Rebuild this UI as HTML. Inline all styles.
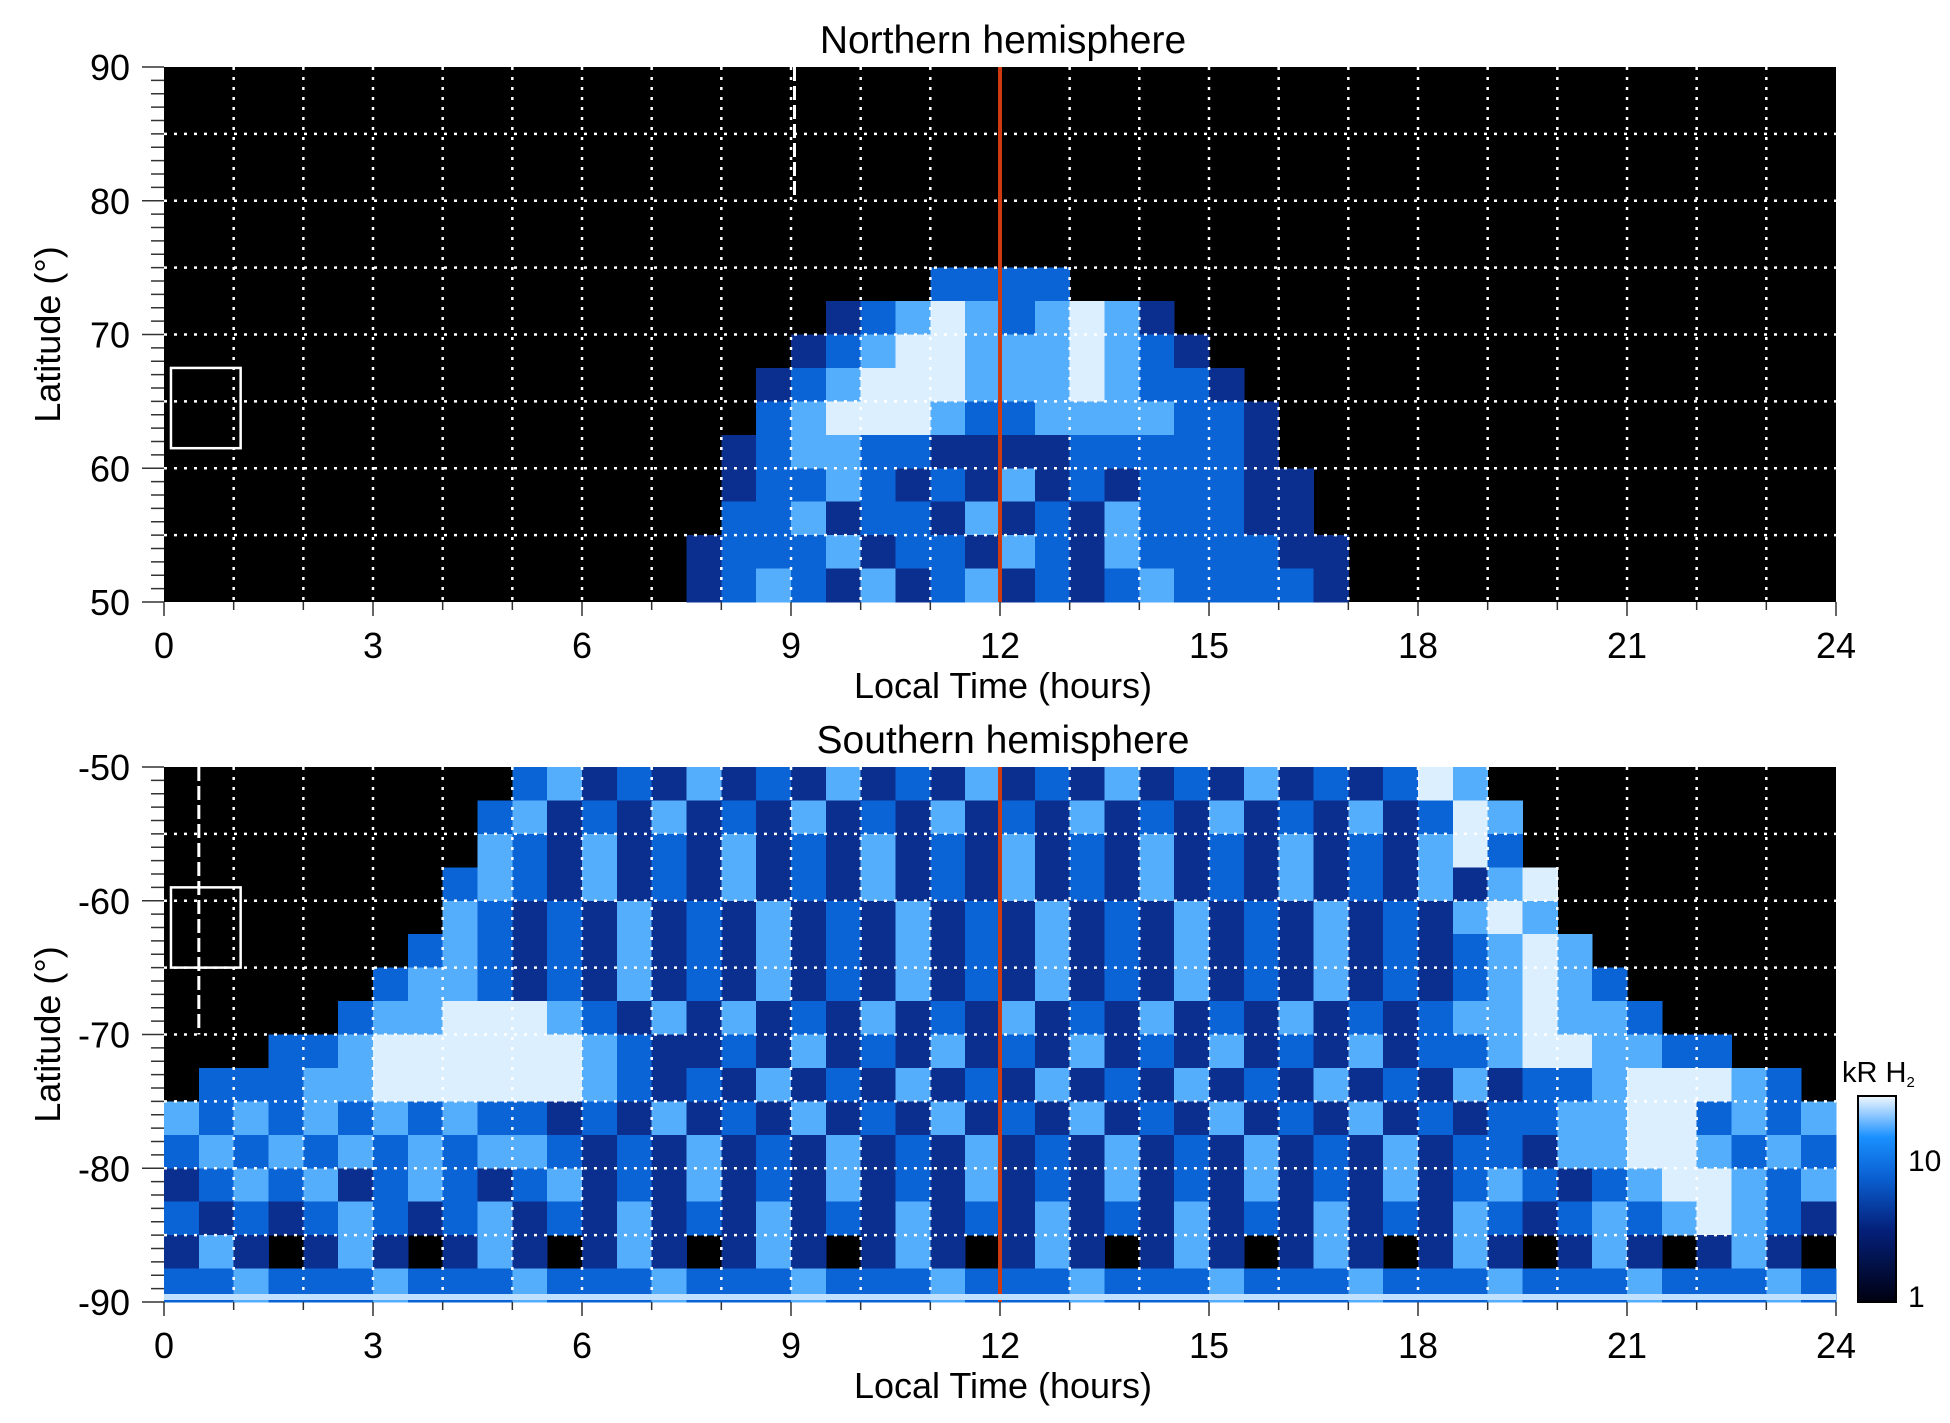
<!DOCTYPE html>
<html><head><meta charset="utf-8"><style>
html,body{margin:0;padding:0;background:#fff;}
svg{display:block;font-family:"Liberation Sans",sans-serif;}
</style></head><body>
<svg id="fig" width="1950" height="1423" viewBox="0 0 1950 1423" xmlns="http://www.w3.org/2000/svg"></svg>
<script>
// ---- data ----
const ltTicks = [0,3,6,9,12,15,18,21,24];
const northLatTicks = [50,60,70,80,90];
const southLatTicks = [-90,-80,-70,-60,-50];
const colorbarTicks = ["1","10"];
const levelColors = ["#000000","#0b2f8f","#0a64d6","#55aefc","#dcefff"];
// Northern hemisphere rows (90 -> 50, 2.5 deg each): [startCol (0.5 h bins), values]
const northRows = [
 [0,""],[0,""],[0,""],[0,""],[0,""],[0,""],
 [22,"2222"],
 [19,"1234323431"],
 [18,"123443334321"],
 [17,"12344433343221"],
 [17,"234443223333221"],
 [16,"1233221111222221"],
 [16,"12232121312122211"],
 [16,"22312213121322211"],
 [15,"1222312213213222211"],
 [15,"1232131231212322221"]
];
// Southern hemisphere rows (-50 -> -90, 2.5 deg each)
const southRows = [
 [10,"2312131213121312131213121243"],
 [9,"231213121312131213121312131243"],
 [9,"321312131213121312131213121342"],
 [8,"23213121312131213121312131213134"],
 [8,"32121312131213121312131213121343"],
 [7,"2321213121312131213121312131212343"],
 [6,"233212131213121312131213121312123432"],
 [5,"23344432131312131213121312131212334332"],
 [3,"223444444321121312131213121312131223443322"],
 [1,"2223344444432121312131213121312131213122344432"],
 [0,"323232323221213121312131213121312131212233442323"],
 [0,"232323232332121312131213121312131213122133443232"],
 [0,"123231232123121312131213121312131213123212344323"],
 [0,"212123212312131213121312131213121312132123234321"],
 [0,"131013101310131013101310131013101310131013101310"],
 [0,"223222322232223222322232223222322232223222322232"]
];

// ---- layout ----
const svg = document.getElementById('fig');
const NS = 'http://www.w3.org/2000/svg';
function mk(tag, attrs, parent){ const e=document.createElementNS(NS,tag); for(const k in attrs) e.setAttribute(k,attrs[k]); (parent||svg).appendChild(e); return e; }
const X0=164, X1=1836;
const xScale = lt => X0 + (X1-X0)*lt/24;

function panel(name, top, bottom, latMin, latMax, rows, ticks, title){
  const g = mk('g',{});
  
  
  const yScale = lat => top + (bottom-top)*(latMax-lat)/(latMax-latMin);
  const bg = mk('rect',{x:X0,y:top,width:X1-X0,height:bottom-top,fill:'#000'},g);
  
  
  const cells = mk('g',{'shape-rendering':'crispEdges'},g);
  
  
  rows.forEach((r,i)=>{
    const latTop = latMax - 2.5*i, latBot = latTop-2.5;
    const y0=yScale(latTop), y1=yScale(latBot);
    for(let j=0;j<r[1].length;j++){
      const v=+r[1][j]; if(!v) continue;
      const c=r[0]+j;
      const x0=xScale(c*0.5), x1=xScale(c*0.5+0.5);
      const rc = mk('rect',{x:x0,y:y0,width:x1-x0+0.5,height:y1-y0+0.5,fill:levelColors[v]},cells);
      
      
    }
  });
  const grid = mk('g',{stroke:'#fff','stroke-width':2.5,'stroke-dasharray':'3 7',fill:'none'},g);
  
  
  for(let h=1;h<24;h++) mk('line',{x1:xScale(h),x2:xScale(h),y1:top,y2:bottom},grid);
  for(let l=latMin+5;l<latMax;l+=5) mk('line',{x1:X0,x2:X1,y1:yScale(l),y2:yScale(l)},grid);
  const ax = mk('g',{stroke:'#333','stroke-width':1.5},g);
  
  
  for(let l=latMin;l<=latMax;l++){ const maj=(l%10===0); mk('line',{x1:X0-(maj?22:13),x2:X0,y1:yScale(l),y2:yScale(l)},ax); }
  for(let h=0;h<=24;h++) mk('line',{x1:xScale(h),x2:xScale(h),y1:bottom,y2:bottom+(h%3===0?14:8)},ax);
  ticks.forEach(t=>{
    const tx=mk('text',{x:130,y:yScale(t)+13,'font-size':36,'text-anchor':'end',fill:'#000'},g);
    tx.textContent=t;
    
    
  });
  ltTicks.forEach(t=>{
    const tx=mk('text',{x:xScale(t),y:bottom+56,'font-size':36,'text-anchor':'middle',fill:'#000'},g);
    tx.textContent=t;
    
    
  });
  const xt=mk('text',{x:1003,y:bottom+96,'font-size':36,'text-anchor':'middle'},g);
  xt.textContent='Local Time (hours)';
  
  
  const yc=(top+bottom)/2;
  const yt=mk('text',{x:60,y:yc,'font-size':36,'text-anchor':'middle',transform:`rotate(-90 60 ${yc})`},g);
  yt.textContent='Latitude (°)';
  
  
  const tt=mk('text',{x:1003,y:top-14,'font-size':39,'text-anchor':'middle'},g);
  tt.textContent=title;
  
  
  const nl=mk('line',{x1:xScale(12),x2:xScale(12),y1:top,y2:bottom,stroke:'#d03a10','stroke-width':4},g);
  
  
  return {g,yScale};
}
const N = panel('northern',67,602,50,90,northRows,northLatTicks,'Northern hemisphere');
const S = panel('southern',767,1302,-90,-50,southRows,southLatTicks,'Southern hemisphere');
const pb=mk('rect',{x:X0,y:1294,width:X1-X0,height:6,fill:'#bfe0ff'},S.g);


let d=mk('line',{x1:xScale(9.05),x2:xScale(9.05),y1:N.yScale(90),y2:N.yScale(80),stroke:'#fff','stroke-width':3,'stroke-dasharray':'14 5'});


d=mk('line',{x1:xScale(0.5),x2:xScale(0.5),y1:S.yScale(-50),y2:S.yScale(-70),stroke:'#fff','stroke-width':3,'stroke-dasharray':'14 5'});


let b=mk('rect',{x:xScale(0.1),y:N.yScale(67.5),width:xScale(1.1)-xScale(0.1),height:N.yScale(61.5)-N.yScale(67.5),fill:'none',stroke:'#fff','stroke-width':2.5});


b=mk('rect',{x:xScale(0.1),y:S.yScale(-59),width:xScale(1.1)-xScale(0.1),height:S.yScale(-65)-S.yScale(-59),fill:'none',stroke:'#fff','stroke-width':2.5});


const defs=mk('defs',{});
const lg=mk('linearGradient',{id:'cb',x1:0,y1:1,x2:0,y2:0},defs);
[["0","#000010"],["0.35","#04207a"],["0.6","#0a5fd0"],["0.8","#1a90ff"],["1","#f2f8ff"]].forEach(s=>mk('stop',{offset:s[0],'stop-color':s[1]},lg));
const cb=mk('rect',{x:1858,y:1096,width:38,height:206,fill:'url(#cb)',stroke:'#000','stroke-width':2});


const cbY=[1296,1160];
colorbarTicks.forEach((t,i)=>{
  const tx=mk('text',{x:1908,y:cbY[i]+11,'font-size':30},svg);
  tx.textContent=t;
  
  
});
const ct=mk('text',{x:1842,y:1082,'font-size':29});
ct.innerHTML='kR H<tspan font-size="15" dy="5">2</tspan>';


</script>
</body></html>
